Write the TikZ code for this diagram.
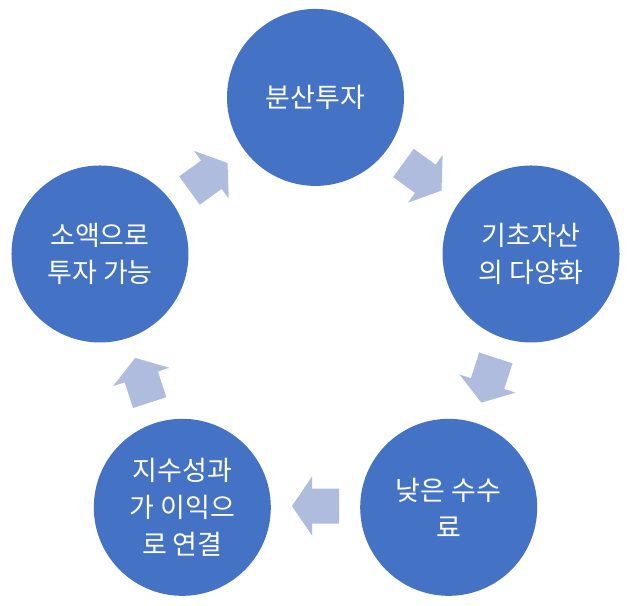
\documentclass[tikz,border=0pt]{standalone}
\usepackage{fontspec}
\usetikzlibrary{calc}
\setmainfont{Noto Sans CJK KR}
\definecolor{circblue}{HTML}{4472C4}
\definecolor{arrowblue}{HTML}{B0BCDE}
\begin{document}
\begin{tikzpicture}[x=1pt,y=1pt,
  stage/.style={circle,fill=circblue,minimum size=177pt,inner sep=0pt,
    text=white,align=center,font=\fontsize{27}{37}\selectfont},
  pics/cyclearrow/.style={code={
    \fill[arrowblue] (-23.5,-17.5) -- (3.5,-17.5) -- (3.5,-29.5) -- (23.5,0)
      -- (3.5,29.5) -- (3.5,17.5) -- (-23.5,17.5) -- cycle;}}]
\useasboundingbox (0,0) rectangle (628,-605);
\coordinate (c) at (315.5,-324);
\node[stage] (s1) at ($(c)+(90:226.6)$) {분산투자};
\node[stage] (s2) at ($(c)+(18:226.6)$) {기초자산\\의 다양화};
\node[stage] (s3) at ($(c)+(-54:226.6)$) {낮은 수수\\료};
\node[stage] (s4) at ($(c)+(-126:226.6)$) {지수성과\\가 이익으\\로 연결};
\node[stage] (s5) at ($(c)+(162:226.6)$) {소액으로\\투자 가능};
\foreach \a/\n in {54/a1,-18/a2,-90/a3,-162/a4,126/a5}{
  \coordinate (\n) at ($(c)+(\a:182)$);
  \pic[rotate=\a-90] at (\n) {cyclearrow};
}
\end{tikzpicture}
\end{document}
